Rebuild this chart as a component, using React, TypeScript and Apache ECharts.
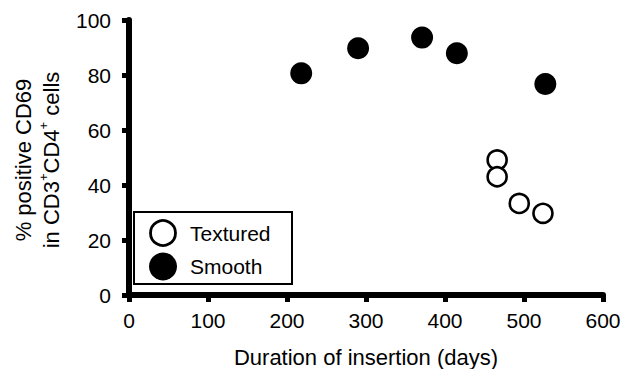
import React, { useEffect, useRef } from "react";
import * as echarts from "echarts";

const FONT = "'Liberation Sans', Arial, Helvetica, sans-serif";

const xTicks = [0, 100, 200, 300, 400, 500, 600];
const yTicks = [0, 20, 40, 60, 80, 100];

const texturedDays = [466, 466, 494, 524];
const texturedPct = [49.1, 43.0, 33.3, 29.7];

const smoothDays = [218, 290, 371, 415, 527];
const smoothPct = [80.6, 89.7, 93.6, 87.9, 76.7];

const legendNames = ["Textured", "Smooth"];
const xTitle = "Duration of insertion (days)";

export default function App() {
  const ref = useRef<HTMLDivElement>(null);

  useEffect(() => {
    if (!ref.current) return;
    const chart = echarts.init(ref.current, null, { renderer: "svg" });

    chart.setOption({
      animation: false,
      backgroundColor: "#fff",
      grid: { left: 129, top: 20, right: 21, bottom: 74, containLabel: false, outerBoundsMode: "none" },
      xAxis: {
        type: "value",
        min: xTicks[0],
        max: xTicks[xTicks.length - 1],
        interval: xTicks[1] - xTicks[0],
        axisLine: { show: true, onZero: false, lineStyle: { color: "#000", width: 6 } },
        axisTick: { show: true, inside: false, length: 7, lineStyle: { color: "#000", width: 5 } },
        splitLine: { show: false },
        axisLabel: { color: "#000", fontSize: 21, fontFamily: FONT, margin: 15 },
        name: xTitle,
        nameLocation: "middle",
        nameGap: 51,
        nameTextStyle: { color: "#000", fontSize: 22, fontFamily: FONT },
      },
      yAxis: {
        type: "value",
        min: yTicks[0],
        max: yTicks[yTicks.length - 1],
        interval: yTicks[1] - yTicks[0],
        axisLine: { show: true, onZero: false, lineStyle: { color: "#000", width: 6 } },
        axisTick: { show: true, inside: false, length: 7, lineStyle: { color: "#000", width: 5 } },
        splitLine: { show: false },
        axisLabel: { color: "#000", fontSize: 21, fontFamily: FONT, margin: 18 },
      },
      series: [
        {
          name: legendNames[0],
          type: "scatter",
          symbol: "circle",
          symbolSize: 19,
          itemStyle: { color: "#fff", borderColor: "#000", borderWidth: 2.6, opacity: 1 },
          data: texturedDays.map((d, i) => [d, texturedPct[i]]),
          z: 3,
        },
        {
          name: legendNames[1],
          type: "scatter",
          symbol: "circle",
          symbolSize: 22,
          itemStyle: { color: "#000", opacity: 1 },
          data: smoothDays.map((d, i) => [d, smoothPct[i]]),
          z: 3,
        },
      ],
      graphic: [
        {
          type: "text",
          x: 37,
          y: 160,
          rotation: Math.PI / 2,
          style: {
            text: "{a|% positive CD69}\n{a|in CD3}{s|+}{a|CD4}{s|+}{a| cells}",
            align: "center",
            verticalAlign: "middle",
            fill: "#000",
            rich: {
              a: { fontSize: 22, fontFamily: FONT, lineHeight: 28, color: "#000" },
              s: { fontSize: 13, fontFamily: FONT, lineHeight: 28, verticalAlign: "top", color: "#000" },
            },
          },
        },
        {
          type: "rect",
          shape: { x: 134, y: 212, width: 158, height: 72 },
          style: { fill: "#fff", stroke: "#000", lineWidth: 2 },
          z: 10,
        },
        {
          type: "circle",
          shape: { cx: 163, cy: 233, r: 12.5 },
          style: { fill: "#fff", stroke: "#000", lineWidth: 2.8 },
          z: 11,
        },
        {
          type: "circle",
          shape: { cx: 163, cy: 266.5, r: 14 },
          style: { fill: "#000" },
          z: 11,
        },
        {
          type: "text",
          x: 190,
          y: 233,
          style: { text: legendNames[0], fontSize: 21, fontFamily: FONT, fill: "#000", verticalAlign: "middle", align: "left" },
          z: 11,
        },
        {
          type: "text",
          x: 190,
          y: 266.5,
          style: { text: legendNames[1], fontSize: 21, fontFamily: FONT, fill: "#000", verticalAlign: "middle", align: "left" },
          z: 11,
        },
      ],
    });

    return () => chart.dispose();
  }, []);

  return <div ref={ref} style={{ width: 624, height: 369, position: "absolute", left: 0, top: 0 }} />;
}
